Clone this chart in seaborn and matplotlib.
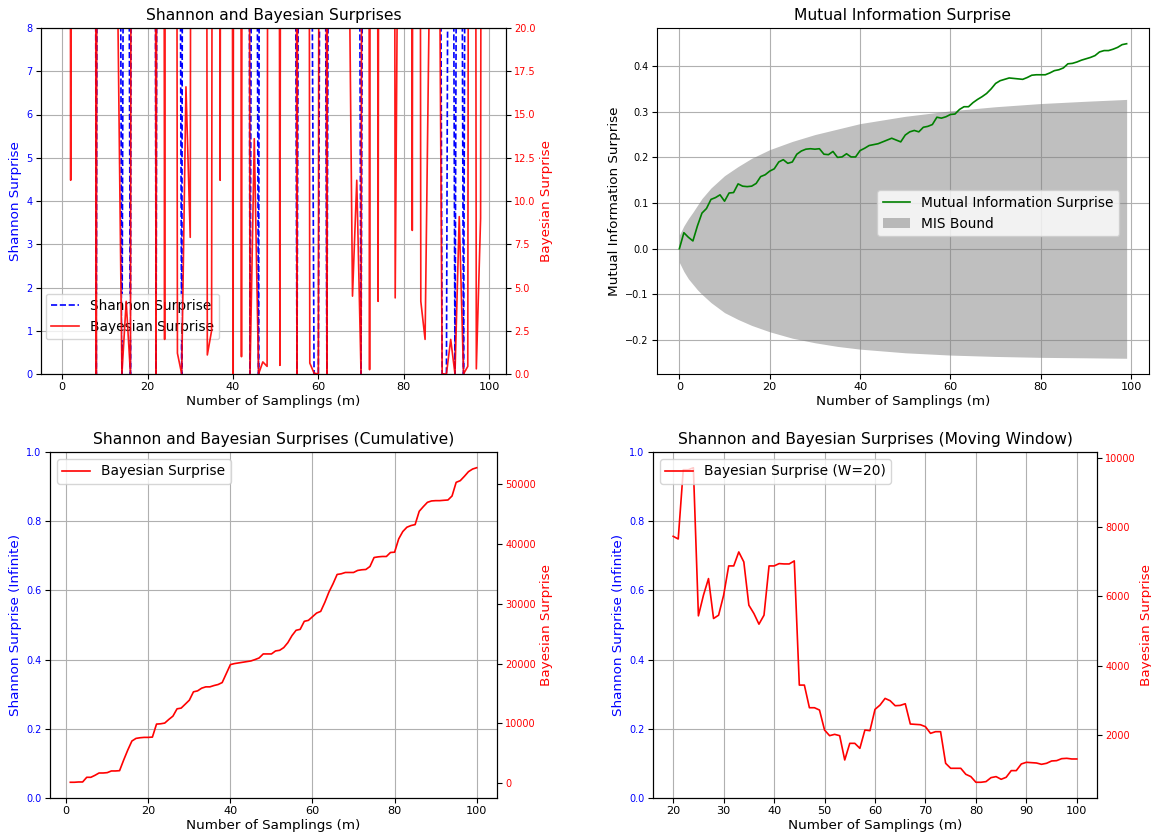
import numpy as np
import pandas as pd
import matplotlib
matplotlib.use("Agg")
import matplotlib.pyplot as plt
import seaborn as sns

# ---------------- data ----------------
steps = list(range(100))  # 0..99

shannon_surprise = [
    60, 60, 60, 60, 60, 60, 60, 60, 0, 60,
    60, 60, 60, 30, 0, 30, 0, 60, 60, 60,
    60, 60, 0, 60, 60, 60, 60, 30, 0, 60,
    60, 60, 60, 60, 60, 60, 60, 60, 60, 60,
    60, 60, 60, 60, 0, 30, 0, 60, 60, 60,
    60, 60, 60, 60, 30, 0, 30, 60, 20, 0,
    0, 30, 0, 30, 60, 60, 60, 60, 60, 30,
    0, 30, 60, 60, 60, 60, 60, 60, 60, 60,
    60, 60, 60, 60, 60, 60, 60, 60, 30, 0,
    0, 30, 0, 30, 0, 30, 60, 60, 60, 60,
]

bayesian_surprise = [
    200, 200, 11.2, 200, 200, 200, 200, 200, 0, 200,
    200, 200, 200, 22, 0, 4.2, 0, 200, 200, 200,
    200, 200, 0, 200, 2.0, 200, 200, 1.2, 0, 16.6,
    7.9, 200, 200, 200, 1.1, 2.5, 200, 11.2, 200, 200,
    0, 200, 1.0, 200, 0, 13.6, 0, 0.7, 0.44, 200,
    200, 0.5, 200, 200, 200, 0, 200, 200, 0.63, 0.05,
    0, 200, 0, 200, 200, 200, 200, 30, 4.5, 11.2,
    0, 200, 0.25, 200, 4.2, 200, 200, 200, 4.4, 40,
    200, 200, 8.3, 200, 4.2, 2.0, 22, 200, 40, 0,
    0, 2.0, 0, 9.1, 0, 0.44, 200, 0.3, 9.0, 200,
]

mis_values = [
    0.0, 0.035, 0.025, 0.017, 0.05, 0.078, 0.088, 0.108, 0.112, 0.118,
    0.104, 0.122, 0.123, 0.142, 0.137, 0.136, 0.137, 0.143, 0.158, 0.162,
    0.17, 0.175, 0.19, 0.195, 0.187, 0.19, 0.207, 0.214, 0.218, 0.219,
    0.218, 0.219, 0.207, 0.206, 0.213, 0.2, 0.201, 0.208, 0.201, 0.201,
    0.215, 0.22, 0.226, 0.228, 0.23, 0.234, 0.238, 0.242, 0.238, 0.234,
    0.249, 0.256, 0.259, 0.256, 0.266, 0.268, 0.272, 0.288, 0.286, 0.289,
    0.294, 0.295, 0.305, 0.311, 0.311, 0.32, 0.327, 0.333, 0.34, 0.35,
    0.362, 0.368, 0.371, 0.374, 0.373, 0.372, 0.371, 0.375, 0.38, 0.381,
    0.381, 0.381, 0.385, 0.39, 0.392, 0.396, 0.405, 0.406, 0.409, 0.413,
    0.416, 0.419, 0.423, 0.431, 0.434, 0.434, 0.437, 0.441, 0.447, 0.449,
]

bound_steps = [0, 1, 2, 3, 4, 5, 7, 10, 13, 16, 20, 25, 30, 35, 40, 50, 60, 70, 80, 90, 99]
bound_upper = [0.03, 0.05, 0.066, 0.08, 0.095, 0.11, 0.133, 0.16, 0.18, 0.198, 0.217,
               0.235, 0.25, 0.262, 0.274, 0.29, 0.302, 0.311, 0.318, 0.323, 0.327]
bound_lower = [-0.03, -0.05, -0.066, -0.078, -0.09, -0.1, -0.118, -0.14, -0.155, -0.168, -0.182,
               -0.196, -0.206, -0.214, -0.22, -0.228, -0.233, -0.236, -0.238, -0.239, -0.24]

cum_steps = list(range(1, 101))
cum_bayesian = [
    170, 170, 220, 220, 1000, 1000, 1330, 1720, 1720, 1780,
    2060, 2060, 2110, 3890, 5560, 7060, 7500, 7610, 7670, 7670,
    7720, 9890, 9940, 10060, 10670, 11220, 12440, 12560, 13220, 13890,
    15280, 15440, 15890, 16110, 16110, 16330, 16500, 16830, 18330, 19830,
    20000, 20110, 20220, 20330, 20440, 20670, 20940, 21610, 21610, 21610,
    22110, 22220, 22670, 23500, 24670, 25560, 25720, 27060, 27220, 27830,
    28440, 28720, 30220, 31940, 33330, 34890, 35000, 35220, 35220, 35220,
    35560, 35670, 35720, 36220, 37720, 37830, 37890, 37890, 38560, 38610,
    40830, 42060, 42780, 43060, 43220, 45440, 46220, 46940, 47170, 47220,
    47220, 47280, 47330, 48000, 50280, 50560, 51280, 52060, 52500, 52720,
]

win_steps = list(range(20, 101))
win_bayesian = [
    7728, 7651, 9648, 9648, 9706, 5434, 6029, 6509, 5357, 5453,
    6029, 6874, 6874, 7277, 6989, 5741, 5501, 5194, 5453, 6874,
    6874, 6941, 6931, 6931, 7018, 3437, 3437, 2784, 2784, 2717,
    2141, 1978, 2016, 1978, 1277, 1757, 1757, 1613, 2141, 2122,
    2736, 2861, 3053, 2986, 2842, 2851, 2899, 2314, 2304, 2294,
    2237, 2045, 2093, 2093, 1181, 1037, 1037, 1037, 864, 797,
    634, 634, 653, 768, 797, 720, 778, 970, 970, 1162,
    1210, 1200, 1190, 1152, 1181, 1248, 1258, 1315, 1325, 1306,
    1306,
]

# ---------------- style ----------------
W, H = 1151, 835
fig = plt.figure(figsize=(W / 100, H / 100), dpi=100)

TITLE = 11.2
LABEL = 9.7
LEG = 9.9
XT = 8.1
YT = 7.0
XPAD = 2.0
YPAD = 3.0

def add_axes(l, r, t, b):
    return fig.add_axes([l / W, 1 - b / H, (r - l) / W, (b - t) / H])

def kill_legend(ax):
    lg = ax.get_legend()
    if lg is not None:
        lg.remove()

def style_common(ax):
    ax.tick_params(axis="x", labelsize=XT, pad=2.5)
    ax.tick_params(axis="y", labelsize=YT, pad=2.5)
    ax.grid(True, color="#b0b0b0", linewidth=0.8)
    ax.set_axisbelow(True)

# ---------- top-left ----------
df_s = pd.DataFrame({"m": steps, "shannon": shannon_surprise, "bayes": bayesian_surprise})
ax1 = add_axes(41, 506, 28, 374)
sns.lineplot(data=df_s, x="m", y="shannon", ax=ax1, color="b", linestyle="--",
             linewidth=1.2, label="Shannon Surprise", estimator=None)
kill_legend(ax1)
ax1.set_ylim(0, 8)
ax1.set_xlabel("Number of Samplings (m)", fontsize=LABEL, labelpad=XPAD)
ax1.set_ylabel("Shannon Surprise", color="b", fontsize=LABEL, labelpad=YPAD)
ax1.tick_params(axis="y", labelcolor="b")
style_common(ax1)
ax1.set_title("Shannon and Bayesian Surprises", fontsize=TITLE)
ax2 = ax1.twinx()
sns.lineplot(data=df_s, x="m", y="bayes", ax=ax2, color="r", linewidth=1.2,
             alpha=0.9, label="Bayesian Surprise", estimator=None)
kill_legend(ax2)
ax2.set_ylim(0, 20)
ax2.set_yticks([0, 2.5, 5, 7.5, 10, 12.5, 15, 17.5, 20])
ax2.set_ylabel("Bayesian Surprise", color="r", fontsize=LABEL, labelpad=YPAD)
ax2.tick_params(axis="y", labelcolor="r", labelsize=YT, pad=2.5)
h1, l1 = ax1.get_legend_handles_labels()
h2, l2 = ax2.get_legend_handles_labels()
ax1.legend(h1 + h2, l1 + l2, loc="lower left", bbox_to_anchor=(0.01, 0.1),
           borderaxespad=0, fontsize=LEG)

# ---------- top-right ----------
ax3 = add_axes(657, 1149, 28, 374)
ax3.fill_between(bound_steps, bound_lower, bound_upper, color="gray", alpha=0.5,
                 linewidth=0, label="MIS Bound")
df_m = pd.DataFrame({"m": steps, "mis": mis_values})
sns.lineplot(data=df_m, x="m", y="mis", ax=ax3, color="g", linewidth=1.2,
             label="Mutual Information Surprise", estimator=None)
kill_legend(ax3)
ax3.set_xlabel("Number of Samplings (m)", fontsize=LABEL, labelpad=XPAD)
ax3.set_ylabel("Mutual Information Surprise", fontsize=LABEL, labelpad=YPAD)
ax3.set_title("Mutual Information Surprise", fontsize=TITLE)
style_common(ax3)
h, l = ax3.get_legend_handles_labels()
order = [l.index("Mutual Information Surprise"), l.index("MIS Bound")]
ax3.legend([h[i] for i in order], [l[i] for i in order], loc="center right",
           bbox_to_anchor=(0.94, 0.465), borderaxespad=0, fontsize=LEG)

# ---------- bottom-left ----------
ax4 = add_axes(50, 497, 452, 798)
ax4.set_ylim(0, 1)
ax4.set_xlabel("Number of Samplings (m)", fontsize=LABEL, labelpad=XPAD)
ax4.set_ylabel("Shannon Surprise (Infinite)", color="b", fontsize=LABEL, labelpad=YPAD)
ax4.tick_params(axis="y", labelcolor="b")
style_common(ax4)
ax4.set_title("Shannon and Bayesian Surprises (Cumulative)", fontsize=TITLE)
ax5 = ax4.twinx()
df_c = pd.DataFrame({"m": cum_steps, "cum": cum_bayesian})
sns.lineplot(data=df_c, x="m", y="cum", ax=ax5, color="r", linewidth=1.2,
             label="Bayesian Surprise", estimator=None)
kill_legend(ax5)
ax4.set_xlim(ax5.get_xlim())
ax5.set_ylabel("Bayesian Surprise", color="r", fontsize=LABEL, labelpad=YPAD)
ax5.tick_params(axis="y", labelcolor="r", labelsize=YT, pad=2.5)
ax5.legend(loc="upper left", fontsize=LEG)

# ---------- bottom-right ----------
ax6 = add_axes(653, 1097, 452, 798)
ax6.set_ylim(0, 1)
ax6.set_xlabel("Number of Samplings (m)", fontsize=LABEL, labelpad=XPAD)
ax6.set_ylabel("Shannon Surprise (Infinite)", color="b", fontsize=LABEL, labelpad=YPAD)
ax6.tick_params(axis="y", labelcolor="b")
style_common(ax6)
ax6.set_title("Shannon and Bayesian Surprises (Moving Window)", fontsize=TITLE)
ax7 = ax6.twinx()
df_w = pd.DataFrame({"m": win_steps, "win": win_bayesian})
sns.lineplot(data=df_w, x="m", y="win", ax=ax7, color="r", linewidth=1.2,
             label="Bayesian Surprise (W=20)", estimator=None)
kill_legend(ax7)
ax6.set_xlim(ax7.get_xlim())
ax7.set_ylabel("Bayesian Surprise", color="r", fontsize=LABEL, labelpad=YPAD)
ax7.tick_params(axis="y", labelcolor="r", labelsize=YT, pad=2.5)
ax7.legend(loc="upper left", fontsize=LEG)

fig.savefig("out.png", dpi=100)
